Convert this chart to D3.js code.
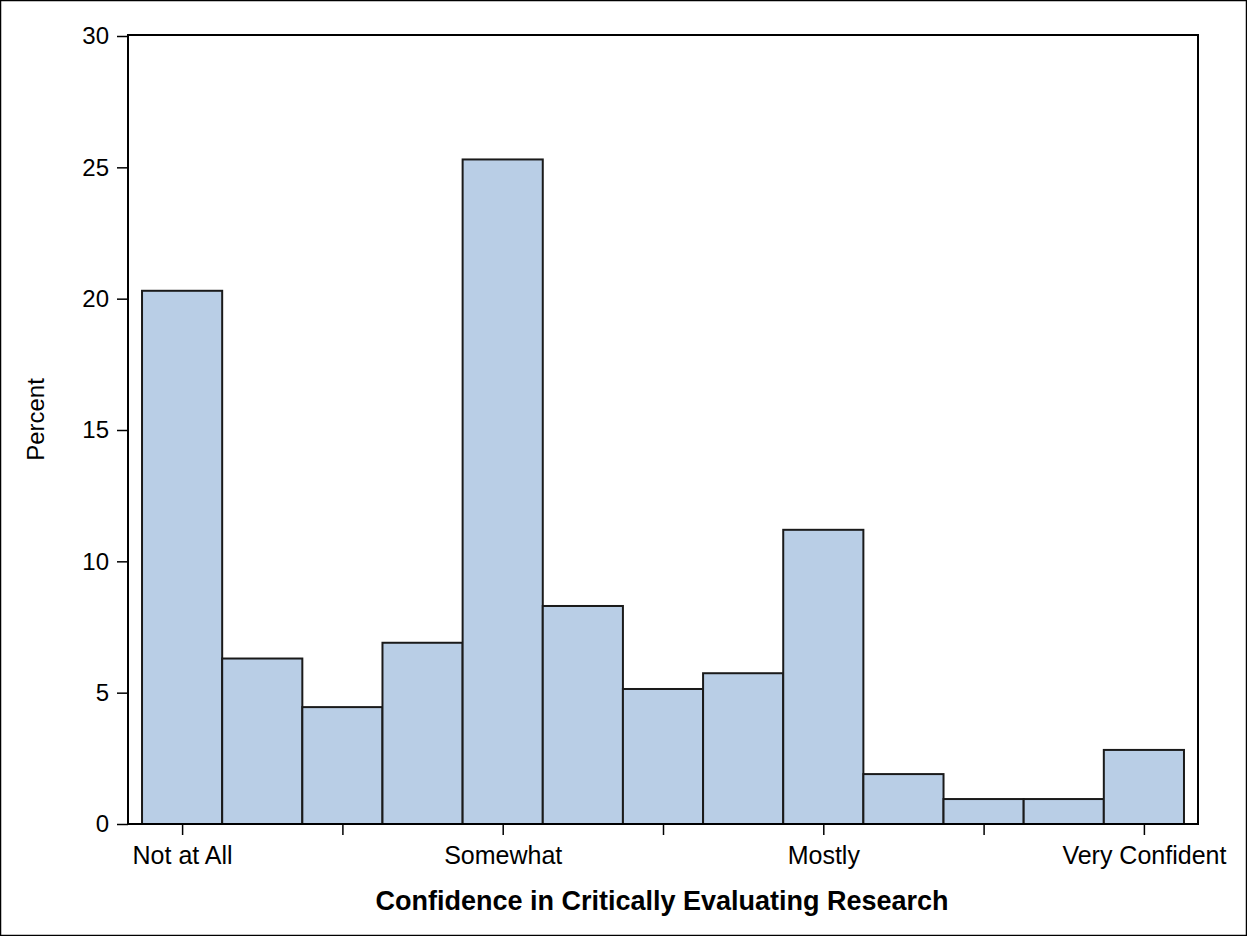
<!DOCTYPE html>
<html>
<head>
<meta charset="utf-8">
<script src="https://cdn.jsdelivr.net/npm/d3@7"></script>
<style>
  html, body { margin: 0; padding: 0; background: #fff; }
  svg { display: block; }
  text { font-family: "Liberation Sans", Arial, sans-serif; fill: #000; }
</style>
</head>
<body>
<svg id="chart" width="1247" height="936"></svg>
<script>
// Data
const binCenters = [0, 1, 2, 3, 4, 5, 6, 7, 8, 9, 10, 11, 12];
const percentValues = [20.3, 6.3, 4.45, 6.9, 25.3, 8.3, 5.14, 5.74, 11.2, 1.9, 0.95, 0.95, 2.82];
const xTickValues = [0, 2, 4, 6, 8, 10, 12];
const xTickLabels = {0: "Not at All", 4: "Somewhat", 8: "Mostly", 12: "Very Confident"};
const yTickValues = [0, 5, 10, 15, 20, 25, 30];
const xTitle = "Confidence in Critically Evaluating Research";
const yTitle = "Percent";

const svg = d3.select("#chart");
const W = 1247, H = 936;
const plot = {left: 128, right: 1198, top: 35, bottom: 824};

// outer border
svg.append("rect").attr("x", 0.5).attr("y", 0.5).attr("width", W - 1).attr("height", H - 1)
  .attr("fill", "#fff").attr("stroke", "#000").attr("stroke-width", 1.5);

const x = d3.scaleLinear().domain([-0.675, 12.675]).range([plot.left, plot.right]);
const y = d3.scaleLinear().domain([0, 30]).range([plot.bottom, 36]);

// bars
svg.append("g").selectAll("rect").data(binCenters).join("rect")
  .attr("x", (d) => x(d - 0.5))
  .attr("width", (d) => x(d + 0.5) - x(d - 0.5))
  .attr("y", (d, i) => y(percentValues[i]))
  .attr("height", (d, i) => y(0) - y(percentValues[i]))
  .attr("fill", "#B9CEE6")
  .attr("stroke", "#1a1a1a")
  .attr("stroke-width", 2);

// frame
svg.append("rect").attr("x", plot.left).attr("y", plot.top)
  .attr("width", plot.right - plot.left).attr("height", plot.bottom - plot.top)
  .attr("fill", "none").attr("stroke", "#000").attr("stroke-width", 2);

// y axis
const yAxis = svg.append("g").attr("transform", `translate(${plot.left},0)`)
  .call(d3.axisLeft(y).tickValues(yTickValues).tickSize(11).tickPadding(8).tickFormat(d3.format("d")));
yAxis.select(".domain").remove();
yAxis.selectAll(".tick line").attr("stroke", "#000").attr("stroke-width", 1.5);
yAxis.selectAll(".tick text").style("font-size", "24px").style("font-family", "Liberation Sans, Arial, sans-serif");

// x axis
const xAxis = svg.append("g").attr("transform", `translate(0,${plot.bottom})`)
  .call(d3.axisBottom(x).tickValues(xTickValues).tickSize(11).tickPadding(11)
    .tickFormat((d) => xTickLabels[d] || ""));
xAxis.select(".domain").remove();
xAxis.selectAll(".tick line").attr("stroke", "#000").attr("stroke-width", 1.5);
xAxis.selectAll(".tick text").style("font-size", "25px").style("font-family", "Liberation Sans, Arial, sans-serif");

// titles
svg.append("text").attr("x", (plot.left + plot.right) / 2 - 1).attr("y", 910)
  .attr("text-anchor", "middle").style("font-size", "27px").style("font-weight", "bold")
  .text(xTitle);

svg.append("text").attr("transform", `translate(44,${(plot.top + plot.bottom) / 2 - 10}) rotate(-90)`)
  .attr("text-anchor", "middle").style("font-size", "24px")
  .text(yTitle);
</script>
</body>
</html>
